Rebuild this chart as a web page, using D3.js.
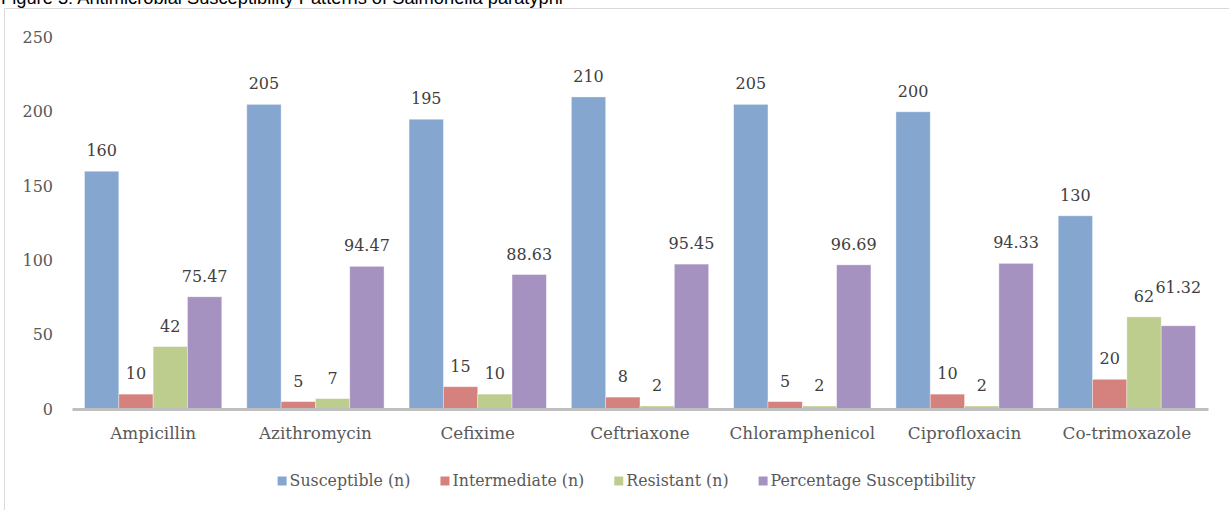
<!DOCTYPE html>
<html>
<head>
<meta charset="utf-8">
<script src="https://cdn.jsdelivr.net/npm/d3@7"></script>
<style>
  html, body { margin: 0; padding: 0; background: #fff; }
  svg { display: block; }
</style>
</head>
<body>
<svg id="chart" width="1229" height="510"></svg>
<script>
const title = "Figure 3: Antimicrobial Susceptibility Patterns of Salmonella paratyphi";
const categories = ["Ampicillin", "Azithromycin", "Cefixime", "Ceftriaxone", "Chloramphenicol", "Ciprofloxacin", "Co-trimoxazole"];
const seriesNames = ["Susceptible (n)", "Intermediate (n)", "Resistant (n)", "Percentage Susceptibility"];
const susceptible = [160, 205, 195, 210, 205, 200, 130];
const intermediate = [10, 5, 15, 8, 5, 10, 20];
const resistant = [42, 7, 10, 2, 2, 2, 62];
// bar heights of the percentage series as drawn, and the labels printed above them
const percentage = [75.5, 96, 90.5, 97.5, 97, 98, 56];
const percentageLabels = ["75.47", "94.47", "88.63", "95.45", "96.69", "94.33", "61.32"];
const yTicks = [0, 50, 100, 150, 200, 250];
const colors = ["#85a7cf", "#d5817e", "#bccd8d", "#a692c0"];

const seriesValues = [susceptible, intermediate, resistant, percentage];
const seriesLabels = [
  susceptible.map(String),
  intermediate.map(String),
  resistant.map(String),
  percentageLabels
];

const svg = d3.select("#chart");
const font = "'DejaVu Serif', serif";

// frame
svg.append("path")
  .attr("d", "M4.5,510 V8.5 H1229")
  .attr("fill", "none")
  .attr("stroke", "#d9d9d9")
  .attr("stroke-width", 1);

// title (partly cut at the top, as in the source figure)
svg.append("text")
  .attr("x", 1).attr("y", 4)
  .attr("font-family", "'Liberation Sans', Arial, sans-serif")
  .attr("font-size", 18.3)
  .attr("fill", "#000")
  .text(title);

const x0 = d3.scaleBand().domain(categories).range([72, 1208]).padding(0);
const x1 = d3.scaleBand().domain(seriesNames).range([12.5, x0.bandwidth() - 12.5]).padding(0);
const y = d3.scaleLinear().domain([0, 250]).range([409, 37.5]);

// y axis labels
const yAxis = d3.axisLeft(y).tickValues(yTicks).tickSize(0).tickPadding(0).tickFormat(d3.format("d"));
const gy = svg.append("g").attr("transform", "translate(53,0)").call(yAxis);
gy.select(".domain").remove();
gy.selectAll("text")
  .attr("font-family", font).attr("font-size", 16).attr("fill", "#595959");

// bars
const rows = [];
categories.forEach((c, i) => {
  seriesNames.forEach((s, j) => {
    rows.push({ c, s, j, v: seriesValues[j][i], label: seriesLabels[j][i] });
  });
});

svg.append("g").selectAll("rect").data(rows).join("rect")
  .attr("x", d => x0(d.c) + x1(d.s))
  .attr("y", d => y(d.v))
  .attr("width", x1.bandwidth())
  .attr("height", d => y(0) - y(d.v))
  .attr("fill", d => colors[d.j])
  .attr("stroke", "rgba(255,255,255,0.45)")
  .attr("stroke-width", 0.8);

// x axis line and labels
const xAxis = d3.axisBottom(x0).tickSize(0).tickPadding(0);
const gx = svg.append("g").attr("transform", "translate(0,409)").call(xAxis);
gx.select(".domain").attr("stroke", "#bfbfbf").attr("stroke-width", 3);
gx.selectAll("text")
  .attr("font-family", font).attr("font-size", 16.8).attr("fill", "#595959")
  .attr("dy", null).attr("y", 30);

// data labels
const lift = d => (d.c === "Co-trimoxazole" && d.j === 3) ? 18 : 0;
svg.append("g").selectAll("text").data(rows).join("text")
  .attr("x", d => x0(d.c) + x1(d.s) + x1.bandwidth() / 2)
  .attr("y", d => y(d.v) - 15 - lift(d))
  .attr("text-anchor", "middle")
  .attr("font-family", font).attr("font-size", 16).attr("fill", "#404040")
  .text(d => d.label);

// legend
const lg = svg.append("g");
const items = lg.selectAll("g").data(seriesNames).join("g");
items.append("rect").attr("width", 9).attr("height", 9).attr("y", -9.5)
  .attr("fill", (d, i) => colors[i]);
items.append("text").attr("x", 12).attr("y", 0)
  .attr("font-family", font).attr("font-size", 15.8).attr("fill", "#595959")
  .text(d => d);
const gap = 30;
const widths = [];
items.each(function () {
  const w = 12 + d3.select(this).select("text").node().getComputedTextLength();
  widths.push(w);
});
const total = d3.sum(widths) + gap * (widths.length - 1);
let start = 626.5 - total / 2;
items.attr("transform", (d, i) => {
  const t = `translate(${start},486)`;
  start += widths[i] + gap;
  return t;
});
</script>
</body>
</html>
